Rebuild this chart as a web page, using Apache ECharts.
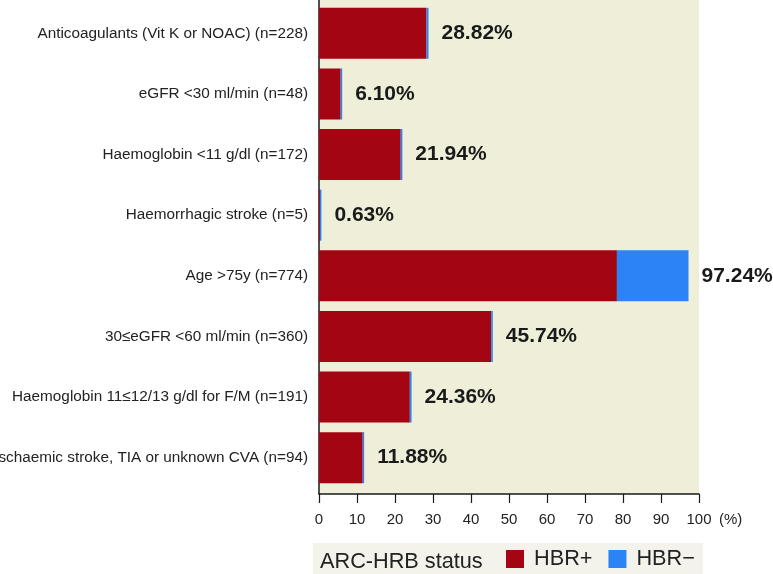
<!DOCTYPE html>
<html>
<head>
<meta charset="utf-8">
<script src="https://cdn.jsdelivr.net/npm/echarts@6/dist/echarts.min.js"></script>
<style>
html,body{margin:0;padding:0;background:#fff;}
#chart{width:773px;height:574px;}
</style>
</head>
<body>
<div id="chart"></div>
<script>
const categories = [
  "Anticoagulants (Vit K or NOAC) (n=228)",
  "eGFR <30 ml/min (n=48)",
  "Haemoglobin <11 g/dl (n=172)",
  "Haemorrhagic stroke (n=5)",
  "Age >75y (n=774)",
  "30\u2264eGFR <60 ml/min (n=360)",
  "Haemoglobin 11\u226412/13 g/dl for F/M (n=191)",
  "Ischaemic stroke, TIA or unknown CVA (n=94)"
];
const hbrPlus  = [28.3, 5.7, 21.5, 0.25, 78.4, 45.3, 23.9, 11.5];
const hbrMinus = [0.52, 0.4, 0.44, 0.38, 18.84, 0.44, 0.46, 0.38];
const totals   = [28.82, 6.10, 21.94, 0.63, 97.24, 45.74, 24.36, 11.88];
const xTicks   = [0, 10, 20, 30, 40, 50, 60, 70, 80, 90, 100];

const RED = '#a30512';
const BLUE = '#2b83f6';
const sans = "'Liberation Sans', Arial, sans-serif";

const chart = echarts.init(document.getElementById('chart'), null, {renderer: 'canvas'});
chart.setOption({
  animation: false,
  backgroundColor: '#ffffff',
  title: {
    text: 'ARC-HRB status',
    left: 315, top: 546,
    z: 10,
    textStyle: {fontFamily: sans, fontSize: 21.7, fontWeight: 'normal', color: '#222'}
  },
  legend: {
    data: ['HBR+', 'HBR\u2212'],
    left: 313, top: 543,
    z: 2,
    backgroundColor: '#f3f3eb',
    padding: [5, 8, 5, 193],
    itemWidth: 18, itemHeight: 18, itemGap: 16,
    icon: 'rect',
    textStyle: {fontFamily: sans, fontSize: 21.7, color: '#222', padding: [0, 0, 0, 5]}
  },
  grid: [
    {left: 319, right: 74, top: 0, bottom: 80, show: true, backgroundColor: '#efefd9', borderWidth: 0,
     containLabel: false, outerBoundsMode: 'none'},
    {left: 319, right: 74, top: 3, height: 485, containLabel: false, outerBoundsMode: 'none'}
  ],
  xAxis: [
    {
      gridIndex: 0, type: 'value', min: 0, max: 100, interval: 10,
      name: '(%)', nameLocation: 'end', nameGap: 20,
      nameTextStyle: {fontFamily: sans, fontSize: 15, color: '#222', verticalAlign: 'top', padding: [18, 0, 0, 0]},
      axisLine: {show: true, lineStyle: {color: '#1a1a1a', width: 1.5}},
      axisTick: {show: true, length: 9, lineStyle: {color: '#1a1a1a', width: 1.2}},
      axisLabel: {fontFamily: sans, fontSize: 15, color: '#222', margin: 18,
        customValues: xTicks},
      splitLine: {show: false}
    },
    {
      gridIndex: 1, type: 'value', min: 0, max: 100,
      show: false
    }
  ],
  yAxis: [
    {
      gridIndex: 0, type: 'value', min: 0, max: 1,
      axisLine: {show: true, lineStyle: {color: '#1a1a1a', width: 1.5}},
      axisTick: {show: false}, axisLabel: {show: false}, splitLine: {show: false}
    },
    {
      gridIndex: 1, type: 'category', data: categories, inverse: true,
      axisLine: {show: false}, axisTick: {show: false},
      axisLabel: {fontFamily: sans, fontSize: 15.3, color: '#222', margin: 11}
    }
  ],
  series: [
    {
      name: 'HBR+', type: 'bar', stack: 'total', xAxisIndex: 1, yAxisIndex: 1,
      data: hbrPlus, barWidth: 51,
      itemStyle: {color: RED}
    },
    {
      name: 'HBR\u2212', type: 'bar', stack: 'total', xAxisIndex: 1, yAxisIndex: 1,
      data: hbrMinus, barWidth: 51,
      itemStyle: {color: BLUE},
      label: {
        show: true, position: 'right', distance: 13,
        fontFamily: sans, fontSize: 21, fontWeight: 'bold', color: '#1a1a1a',
        formatter: p => totals[p.dataIndex].toFixed(2) + '%'
      }
    }
  ]
});
</script>
</body>
</html>
